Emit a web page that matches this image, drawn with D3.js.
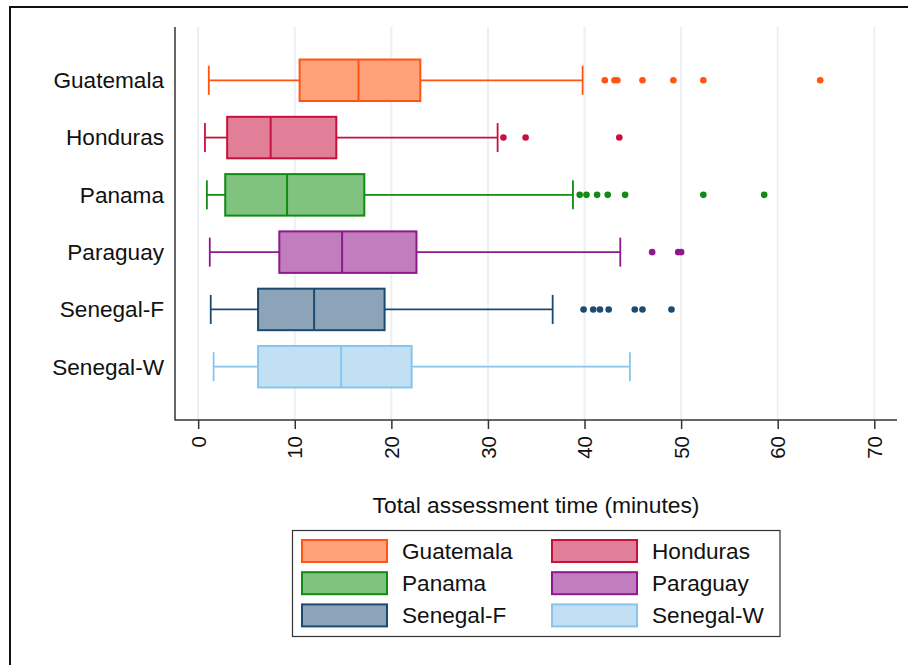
<!DOCTYPE html>
<html>
<head>
<meta charset="utf-8">
<script src="https://cdn.jsdelivr.net/npm/d3@7"></script>
<style>
  html, body { margin: 0; padding: 0; background: #fff; }
  svg { display: block; font-family: "Liberation Sans", Arial, sans-serif; }
</style>
</head>
<body>
<svg id="chart" width="908" height="665"></svg>
<script>
const categories = ["Guatemala", "Honduras", "Panama", "Paraguay", "Senegal-F", "Senegal-W"];
const whiskerLow  = [1.1, 0.7, 0.9, 1.2, 1.3, 1.6];
const q1          = [10.5, 3.0, 2.8, 8.4, 6.2, 6.2];
const median      = [16.6, 7.5, 9.2, 14.9, 12.0, 14.8];
const q3          = [23.0, 14.3, 17.2, 22.6, 19.3, 22.1];
const whiskerHigh = [39.8, 31.0, 38.8, 43.7, 36.7, 44.7];
const outliers = [
  [42.1, 43.1, 43.4, 46.0, 49.2, 52.3, 64.4],
  [31.6, 33.9, 43.6],
  [39.5, 40.2, 41.3, 42.4, 44.2, 52.3, 58.6],
  [47.0, 49.7, 50.0],
  [39.9, 40.9, 41.6, 42.5, 45.2, 46.0, 49.0],
  []
];
const xTicks = [0, 10, 20, 30, 40, 50, 60, 70];
const strokeColors = ["#ff5412", "#c8103e", "#138a13", "#8c1a8c", "#1d4a70", "#88c4ec"];
const fillColors   = ["#ffa27b", "#e07f97", "#80c280", "#c17dbd", "#8da3b7", "#c2e0f4"];
const xTitle = "Total assessment time (minutes)";

const svg = d3.select("#chart");
const plot = { left: 175, right: 897, top: 27, bottom: 420 };

// outer frame
svg.append("rect")
  .attr("x", 10).attr("y", 7).attr("width", 910).attr("height", 680)
  .attr("fill", "none").attr("stroke", "#111").attr("stroke-width", 2);

const x = d3.scaleLinear().domain([-2.4, 72.35]).range([plot.left, plot.right]);
const y = d3.scalePoint().domain(categories).range([plot.top, plot.bottom]).padding(0.93);
const boxH = 41.5;
const capH = 29;

// grid lines
svg.append("g").selectAll("line").data(xTicks).join("line")
  .attr("x1", d => x(d)).attr("x2", d => x(d))
  .attr("y1", plot.top).attr("y2", plot.bottom)
  .attr("stroke", "#eaf0f4").attr("stroke-width", 2);

// axes lines
svg.append("line").attr("x1", plot.left).attr("x2", plot.left)
  .attr("y1", plot.top).attr("y2", plot.bottom + 0.5)
  .attr("stroke", "#333").attr("stroke-width", 1.5);

const xAxis = svg.append("g").attr("transform", `translate(0,${plot.bottom})`)
  .call(d3.axisBottom(x).tickValues(xTicks).tickSize(9).tickFormat(d3.format("d")));
xAxis.select(".domain").attr("stroke", "#333").attr("stroke-width", 1.5)
  .attr("d", `M${plot.left},0H${plot.right}`);
xAxis.selectAll(".tick line").attr("stroke", "#333").attr("stroke-width", 1.5);
xAxis.selectAll(".tick text")
  .attr("font-size", 20.5).attr("fill", "#111")
  .attr("text-anchor", "end")
  .attr("transform", "rotate(-90)")
  .attr("x", -16).attr("y", 0).attr("dy", "0.35em");

// y labels
svg.append("g").selectAll("text").data(categories).join("text")
  .attr("x", 164).attr("y", d => y(d)).attr("dy", "0.35em")
  .attr("text-anchor", "end").attr("font-size", 22.6).attr("fill", "#111")
  .text(d => d);

// boxes
const rows = categories.map((c, i) => ({
  c, i, lo: whiskerLow[i], q1: q1[i], med: median[i], q3: q3[i], hi: whiskerHigh[i], out: outliers[i]
}));

const g = svg.append("g");
rows.forEach(r => {
  const cy = y(r.c);
  const sc = strokeColors[r.i], fc = fillColors[r.i];
  g.append("line").attr("x1", x(r.lo)).attr("x2", x(r.q1)).attr("y1", cy).attr("y2", cy)
    .attr("stroke", sc).attr("stroke-width", 1.8);
  g.append("line").attr("x1", x(r.q3)).attr("x2", x(r.hi)).attr("y1", cy).attr("y2", cy)
    .attr("stroke", sc).attr("stroke-width", 1.8);
  g.append("line").attr("x1", x(r.lo)).attr("x2", x(r.lo)).attr("y1", cy - capH / 2).attr("y2", cy + capH / 2)
    .attr("stroke", sc).attr("stroke-width", 1.8);
  g.append("line").attr("x1", x(r.hi)).attr("x2", x(r.hi)).attr("y1", cy - capH / 2).attr("y2", cy + capH / 2)
    .attr("stroke", sc).attr("stroke-width", 1.8);
  g.append("rect").attr("x", x(r.q1)).attr("y", cy - boxH / 2)
    .attr("width", x(r.q3) - x(r.q1)).attr("height", boxH)
    .attr("fill", fc).attr("stroke", sc).attr("stroke-width", 2);
  g.append("line").attr("x1", x(r.med)).attr("x2", x(r.med))
    .attr("y1", cy - boxH / 2).attr("y2", cy + boxH / 2)
    .attr("stroke", sc).attr("stroke-width", 2);
  g.selectAll(null).data(r.out).join("circle")
    .attr("cx", d => x(d)).attr("cy", cy).attr("r", 3.3).attr("fill", sc);
});

// x title
svg.append("text").attr("x", (plot.left + plot.right) / 2).attr("y", 513)
  .attr("text-anchor", "middle").attr("font-size", 22.8).attr("fill", "#111")
  .text(xTitle);

// legend
const lg = svg.append("g");
lg.append("rect").attr("x", 292.5).attr("y", 530.5).attr("width", 487.5).attr("height", 106)
  .attr("fill", "#fff").attr("stroke", "#333").attr("stroke-width", 1.2);
categories.forEach((c, i) => {
  const col = i % 2, row = Math.floor(i / 2);
  const sx = col === 0 ? 302 : 552;
  const sy = 540 + row * 32.2;
  lg.append("rect").attr("x", sx).attr("y", sy).attr("width", 85).attr("height", 22)
    .attr("fill", fillColors[i]).attr("stroke", strokeColors[i]).attr("stroke-width", 2);
  lg.append("text").attr("x", sx + 100).attr("y", sy + 11).attr("dy", "0.35em")
    .attr("font-size", 22.6).attr("fill", "#111").text(c);
});
</script>
</body>
</html>
